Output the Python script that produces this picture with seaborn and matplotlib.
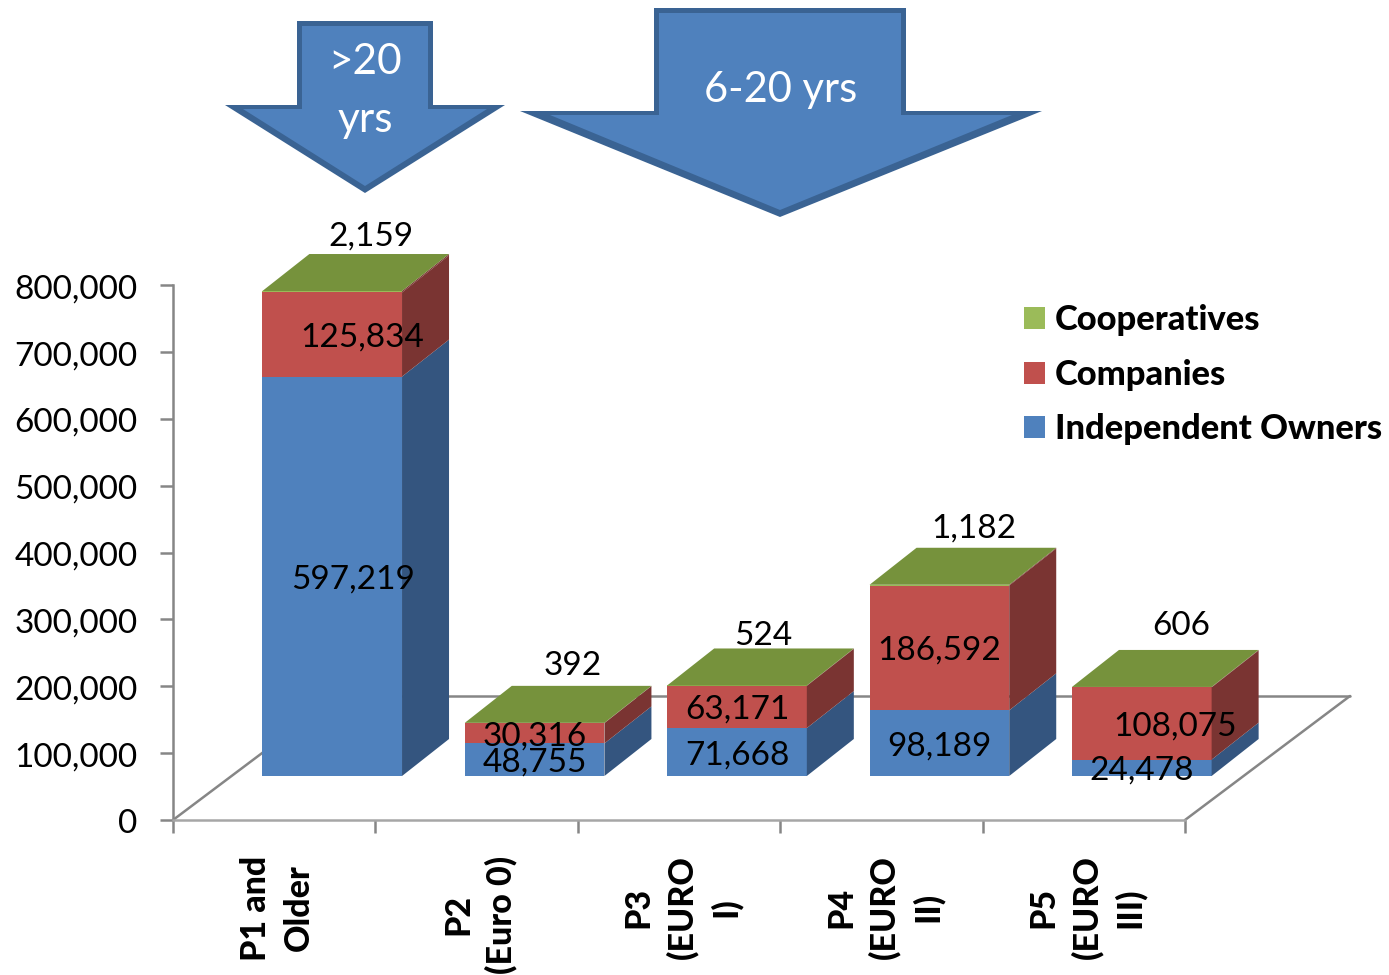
import matplotlib
matplotlib.use("Agg")
import matplotlib.pyplot as plt
from matplotlib.patches import Polygon, Patch
from matplotlib.transforms import ScaledTranslation
import pandas as pd
import seaborn as sns

categories = ["P1 and\nOlder", "P2\n(Euro 0)", "P3\n(EURO\nI)", "P4\n(EURO\nII)", "P5\n(EURO\nIII)"]
independent_owners = [597219, 48755, 71668, 98189, 24478]
companies = [125834, 30316, 63171, 186592, 108075]
cooperatives = [2159, 392, 524, 1182, 606]

FRONT = {"Independent Owners": "#4f81bd", "Companies": "#c0504d", "Cooperatives": "#9bbb59"}
SIDE = {"Independent Owners": "#34557f", "Companies": "#7a3432", "Cooperatives": "#7a3432"}
TOP_FACE = "#76923c"
AXIS_GREY = "#868686"
ARROW_FILL = "#4f81bd"
ARROW_EDGE = "#3a6393"

W, H = 1389, 975
PX_PER_CAT = 202.4
PX_PER_VAL = 535 / 800000

sns.set_theme(style="white")
plt.rcParams["font.family"] = ["Lato", "DejaVu Sans"]

fig = plt.figure(figsize=(W / 100, H / 100), dpi=100, facecolor="white")


def frame(left, bottom_y):
    """Axes rectangle from pixel positions measured from the top-left corner."""
    return [left / W, (H - bottom_y) / H, 5 * PX_PER_CAT / W, 535 / H]


# Wall and floor: carries the real scales, ticks and tick labels
wall = fig.add_axes(frame(173, 820), zorder=1)
wall.set_xlim(-0.5, 4.5)
wall.set_ylim(0, 800000)
wall.set_yticks(range(0, 800001, 100000))
wall.set_yticklabels([f"{v:,}" for v in range(0, 800001, 100000)])
wall.set_xticks(range(5))
wall.set_xticklabels(categories, rotation=90, va="top", ha="center", ma="center",
                     fontweight=900, fontsize=24.5, linespacing=1.4, color="black")
wall.set_xticks([i - 0.5 for i in range(6)], minor=True)
wall.tick_params(axis="y", left=True, length=9.5, width=1.8, color=AXIS_GREY,
                 labelsize=24, pad=16, labelcolor="black")
wall.tick_params(axis="x", which="major", bottom=False, pad=19.5)
wall.tick_params(axis="x", which="minor", bottom=True, length=9.5, width=1.8, color=AXIS_GREY)
nudge_down = ScaledTranslation(0, -1.2 / 100, fig.dpi_scale_trans)
for tick_label in wall.get_yticklabels():
    tick_label.set_transform(tick_label.get_transform() + nudge_down)
nudge_right = ScaledTranslation(3 / 100, 0, fig.dpi_scale_trans)
for tick_label in wall.get_xticklabels():
    tick_label.set_transform(tick_label.get_transform() + nudge_right)
for name in ("top", "right"):
    wall.spines[name].set_visible(False)
wall.spines["left"].set(color=AXIS_GREY, linewidth=1.8)
wall.spines["bottom"].set(color="#a6a6a6", linewidth=1.8)
wall.patch.set_visible(False)

# Floor outline running back from the front edge
floor_dx = 165 / PX_PER_CAT
floor_dy = 124 / PX_PER_VAL
floor_kw = dict(color=AXIS_GREY, linewidth=1.8, clip_on=False, solid_capstyle="round")
wall.plot([-0.5, -0.5 + floor_dx], [0, floor_dy], **floor_kw)
wall.plot([4.5, 4.5 + floor_dx], [0, floor_dy], **floor_kw)
wall.plot([-0.5 + floor_dx, 4.5 + floor_dx], [floor_dy, floor_dy], **floor_kw)

# Front faces of the columns, drawn tallest cumulative total first
bars = fig.add_axes(frame(173 + 58, 820 - 44), zorder=2)
bars.patch.set_visible(False)

lower = list(independent_owners)
middle = [a + b for a, b in zip(lower, companies)]
upper = [a + b for a, b in zip(middle, cooperatives)]
short_names = [c.split("\n")[0] for c in categories]

for series, tops in (("Cooperatives", upper), ("Companies", middle), ("Independent Owners", lower)):
    frame_df = pd.DataFrame({"period": short_names, "total": tops})
    sns.barplot(data=frame_df, x="period", y="total", color=FRONT[series], saturation=1,
                width=0.69, ax=bars, linewidth=0, clip_on=False)

bars.set_xlim(-0.5, 4.5)
bars.set_ylim(0, 800000)
bars.axis("off")

# Side and top faces extruded from the same totals
depth_x = 47 / PX_PER_CAT
depth_y = 37 / PX_PER_VAL
half = 0.69 / 2
for i in range(5):
    edges = [0, lower[i], middle[i], upper[i]]
    for j, series in enumerate(("Independent Owners", "Companies", "Cooperatives")):
        y0, y1 = edges[j], edges[j + 1]
        x = i + half
        bars.add_patch(Polygon([(x, y0), (x + depth_x, y0 + depth_y),
                                (x + depth_x, y1 + depth_y), (x, y1)],
                               facecolor=SIDE[series], edgecolor="none", clip_on=False))
    bars.add_patch(Polygon([(i - half, upper[i]), (i + half, upper[i]),
                            (i + half + depth_x, upper[i] + depth_y),
                            (i - half + depth_x, upper[i] + depth_y)],
                           facecolor=TOP_FACE, edgecolor="none", clip_on=False))

# Value labels: centred on their segments, with hand-tuned sideways nudges
owner_nudge = [21, 0, 0, 0, 0]
company_nudge = [30, 0, 0, 0, 33]
coop_nudge = [(39, 17), (38, 20), (26, 12), (34, 19), (39, 24)]
px = 72 / 100
label_kw = dict(ha="center", va="center", fontsize=24, color="black",
                textcoords="offset points", annotation_clip=False)
for i in range(5):
    bars.annotate(f"{independent_owners[i]:,}", (i, lower[i] / 2),
                  xytext=(owner_nudge[i] * px, -3 * px), **label_kw)
    bars.annotate(f"{companies[i]:,}", (i, (lower[i] + middle[i]) / 2),
                  xytext=(company_nudge[i] * px, -3 * px), **label_kw)
    bars.annotate(f"{cooperatives[i]:,}", (i, upper[i] + depth_y),
                  xytext=(coop_nudge[i][0] * px, coop_nudge[i][1] * px), **label_kw)

# Age-band callout arrows, laid out in pixel space: dark outer shape, lighter inset
overlay = fig.add_axes([0, 0, 1, 1], zorder=3)
overlay.set_xlim(0, W)
overlay.set_ylim(H, 0)
overlay.axis("off")
overlay.patch.set_visible(False)
overlay.add_patch(Polygon([(297, 21), (433, 21), (433, 105), (505, 105), (365, 193),
                           (225, 105), (297, 105)], facecolor=ARROW_EDGE, edgecolor="none"))
overlay.add_patch(Polygon([(302, 26), (428, 26), (428, 109), (487, 109), (365, 186),
                           (243, 109), (302, 109)], facecolor=ARROW_FILL, edgecolor="none"))
overlay.add_patch(Polygon([(654, 8), (906, 8), (906, 111), (1042, 111), (780, 217),
                           (520, 111), (654, 111)], facecolor=ARROW_EDGE, edgecolor="none"))
overlay.add_patch(Polygon([(659, 13), (901, 13), (901, 115), (1012, 115), (780, 210),
                           (550, 115), (659, 115)], facecolor=ARROW_FILL, edgecolor="none"))
overlay.text(365, 91, ">20\nyrs", color="white", fontsize=30.5, ha="center", va="center",
             linespacing=1.63)
overlay.text(781, 90, "6-20 yrs", color="white", fontsize=30, ha="center", va="center")

handles = [Patch(facecolor=FRONT[s], edgecolor="none", label=s)
           for s in ("Cooperatives", "Companies", "Independent Owners")]
fig.legend(handles=handles, loc="upper left", bbox_to_anchor=(1024 / W, 1 - 304 / H),
           frameon=False, prop={"weight": 900, "size": 24.8}, handlelength=0.61,
           handleheight=0.61, handletextpad=0.28, labelspacing=0.66, borderpad=0,
           borderaxespad=0, labelcolor="black")

fig.savefig("out.png", dpi=100)
